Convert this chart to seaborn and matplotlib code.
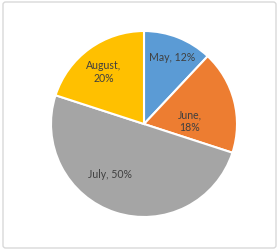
import matplotlib
matplotlib.use('Agg')
import matplotlib.pyplot as plt
import seaborn as sns
from matplotlib.patches import FancyBboxPatch

# data
months = ['May', 'June', 'July', 'August']
shares = [12, 18, 50, 20]
colors = ['#5B9BD5', '#ED7D31', '#A5A5A5', '#FFC000']

sns.set_theme(style='white')
plt.rcParams['font.family'] = ['Lato', 'DejaVu Sans']

W, H = 279, 252
fig = plt.figure(figsize=(W / 100, H / 100), dpi=100)
fig.patch.set_facecolor('white')

# light chart-area border
fig.patches.append(FancyBboxPatch((3 / W, 4 / H), 273 / W, 246 / H,
                                  boxstyle='round,pad=0,rounding_size=0.01',
                                  transform=fig.transFigure, facecolor='none',
                                  edgecolor='#D9D9D9', linewidth=1))

cx, cy, r = 144, 124, 93
ax = fig.add_axes([(cx - r) / W, (H - cy - r) / H, 2 * r / W, 2 * r / H])
labels = [f'{m}, {s}%' for m, s in zip(months, shares)]
wedges, texts = ax.pie(shares, labels=labels, colors=colors, startangle=90,
                       counterclock=False, labeldistance=0.7,
                       wedgeprops={'edgecolor': 'white', 'linewidth': 1.5},
                       textprops={'fontsize': 7.6, 'color': '#404040'})
# Excel-style "best fit" label spots
label_pos = [(0.30, 0.71), (0.49, 0.03), (-0.37, -0.54), (-0.43, 0.56)]
wrap = [False, True, False, True]
for t, (x, y), w, lab in zip(texts, label_pos, wrap, labels):
    t.set_position((x, y))
    t.set_ha('center')
    t.set_va('center')
    if w:
        t.set_text(lab.replace(', ', ',\n'))
    t.set_multialignment('center')
ax.set_xlim(-1, 1)
ax.set_ylim(-1, 1)
ax.set_aspect('equal')

plt.savefig('out.png', dpi=100)
